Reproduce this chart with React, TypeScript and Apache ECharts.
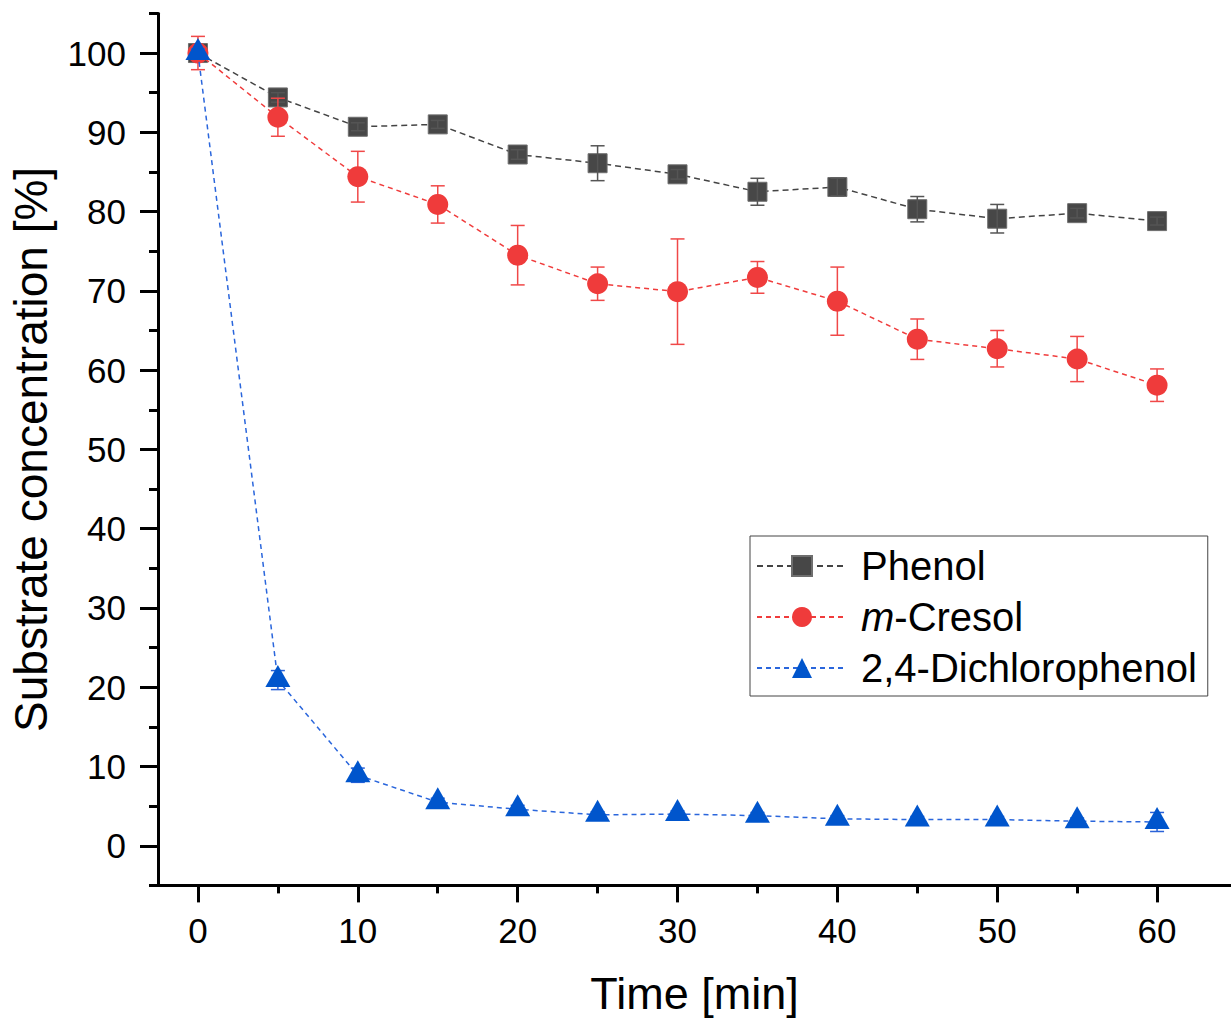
import React, { useEffect, useRef } from "react";
import * as echarts from "echarts";

const timeMin = [0, 5, 10, 15, 20, 25, 30, 35, 40, 45, 50, 55, 60];
const phenolMean = [100, 94.4, 90.7, 91.0, 87.2, 86.1, 84.7, 82.5, 83.1, 80.3, 79.1, 79.8, 78.8];
const phenolErr = [0.6, 0.6, 0.5, 0.5, 0.6, 2.2, 0.6, 1.7, 1.1, 1.6, 1.8, 0.6, 0.5];
const cresolMean = [100, 91.9, 84.4, 80.9, 74.5, 70.9, 69.9, 71.7, 68.7, 63.9, 62.7, 61.4, 58.1];
const cresolErr = [2.1, 2.4, 3.2, 2.35, 3.75, 2.1, 6.65, 2.0, 4.3, 2.55, 2.3, 2.85, 2.05];
const dcpMean = [100, 20.9, 8.9, 5.5, 4.6, 3.9, 4.0, 3.8, 3.4, 3.3, 3.3, 3.1, 3.0];
const dcpErr = [0.5, 1.2, 0.9, 0.5, 0.5, 0.4, 0.4, 0.4, 0.4, 0.4, 0.4, 0.4, 1.2];

const seriesNames = ["Phenol", "m-Cresol", "2,4-Dichlorophenol"];
const xMajorTicks = [0, 10, 20, 30, 40, 50, 60];
const xMinorTicks = [5, 15, 25, 35, 45, 55];
const yMajorTicks = [0, 10, 20, 30, 40, 50, 60, 70, 80, 90, 100];
const yMinorTicks = [-5, 5, 15, 25, 35, 45, 55, 65, 75, 85, 95, 105];

const FONT = "'Liberation Sans', Arial, Helvetica, sans-serif";
const X_MIN = -2.5;
const X_MAX = 64.625;
const Y_MIN = -5;
const Y_MAX = 105;

function pairs(means: number[]) {
  return timeMin.map((t, i) => [t, means[i]]);
}
function errData(means: number[], errs: number[]) {
  return timeMin.map((t, i) => [t, means[i] - errs[i], means[i] + errs[i]]);
}

function errorSeries(means: number[], errs: number[], color: string, z: number) {
  return {
    type: "custom",
    coordinateSystem: "cartesian2d",
    xAxisIndex: 0,
    yAxisIndex: 0,
    z,
    silent: true,
    encode: { x: 0, y: [1, 2] },
    data: errData(means, errs),
    renderItem: (params: any, api: any) => {
      const x = api.value(0);
      const lo = api.coord([x, api.value(1)]);
      const hi = api.coord([x, api.value(2)]);
      const hw = 7;
      const style = { stroke: color, lineWidth: 1.5, fill: "none" };
      return {
        type: "group",
        children: [
          { type: "line", shape: { x1: lo[0], y1: lo[1], x2: hi[0], y2: hi[1] }, style },
          { type: "line", shape: { x1: lo[0] - hw, y1: lo[1], x2: lo[0] + hw, y2: lo[1] }, style },
          { type: "line", shape: { x1: hi[0] - hw, y1: hi[1], x2: hi[0] + hw, y2: hi[1] }, style },
        ],
      };
    },
  };
}

export default function App() {
  const ref = useRef<HTMLDivElement>(null);
  useEffect(() => {
    const chart = echarts.init(ref.current as HTMLDivElement, null, { renderer: "svg" });
    const axisLineStyle = { color: "#000", width: 3 };
    const option: any = {
      animation: false,
      backgroundColor: "#ffffff",
      textStyle: { fontFamily: FONT },
      grid: { left: 157, top: 13.4, width: 1074, height: 872, containLabel: false },
      legend: {
        left: 750,
        top: 536,
        orient: "vertical",
        data: seriesNames,
        itemWidth: 90,
        itemHeight: 25,
        itemGap: 11,
        padding: [10, 11, 8, 6],
        borderColor: "#444",
        borderWidth: 1,
        backgroundColor: "#fff",
        formatter: (name: string) =>
          name === "m-Cresol" ? "{i|m}{n|-Cresol}" : "{n|" + name + "}",
        textStyle: {
          padding: [0, 0, 0, 9],
          color: "#000",
          fontFamily: FONT,
          fontSize: 40,
          rich: {
            i: { fontStyle: "italic", fontSize: 40, lineHeight: 38, fontFamily: FONT, color: "#000" },
            n: { fontSize: 40, lineHeight: 38, fontFamily: FONT, color: "#000" },
          },
        },
      },
      xAxis: [
        {
          type: "value",
          min: X_MIN,
          max: X_MAX,
          position: "bottom",
          axisLine: { show: true, onZero: false, lineStyle: axisLineStyle },
          axisTick: { show: true, customValues: xMajorTicks, length: 17, lineStyle: { color: "#000", width: 3 } },
          axisLabel: { show: true, customValues: xMajorTicks, fontSize: 35, color: "#000", margin: 28, fontFamily: FONT },
          splitLine: { show: false },
          name: "Time [min]",
          nameLocation: "middle",
          nameGap: 86,
          nameTextStyle: { fontSize: 45, color: "#000", fontFamily: FONT },
        },
        {
          type: "value",
          min: X_MIN,
          max: X_MAX,
          position: "bottom",
          axisLine: { show: false, onZero: false },
          axisTick: { show: true, customValues: xMinorTicks, length: 8, lineStyle: { color: "#000", width: 3 } },
          axisLabel: { show: false },
          splitLine: { show: false },
        },
      ],
      yAxis: [
        {
          type: "value",
          min: Y_MIN,
          max: Y_MAX,
          position: "left",
          axisLine: { show: true, onZero: false, lineStyle: axisLineStyle },
          axisTick: { show: true, customValues: yMajorTicks, length: 18, lineStyle: { color: "#000", width: 3 } },
          axisLabel: { show: true, customValues: yMajorTicks, fontSize: 35, color: "#000", margin: 32, fontFamily: FONT },
          splitLine: { show: false },
          name: "Substrate concentration [%]",
          nameLocation: "middle",
          nameGap: 104,
          nameTextStyle: { fontSize: 46, color: "#000", fontFamily: FONT },
        },
        {
          type: "value",
          min: Y_MIN,
          max: Y_MAX,
          position: "left",
          axisLine: { show: false, onZero: false },
          axisTick: { show: true, customValues: yMinorTicks, length: 9, lineStyle: { color: "#000", width: 3 } },
          axisLabel: { show: false },
          splitLine: { show: false },
        },
      ],
      series: [
        {
          name: "Phenol",
          type: "line",
          xAxisIndex: 0,
          yAxisIndex: 0,
          z: 2,
          data: pairs(phenolMean),
          symbol: "rect",
          symbolSize: [19, 19],
          itemStyle: { color: "#474747", borderColor: "#6e6e6e", borderWidth: 1 },
          lineStyle: { color: "#444444", width: 1.5, type: [6, 4] },
        },
        errorSeries(phenolMean, phenolErr, "#555555", 3),
        errorSeries(cresolMean, cresolErr, "#f04848", 4),
        {
          name: "m-Cresol",
          type: "line",
          xAxisIndex: 0,
          yAxisIndex: 0,
          z: 5,
          data: pairs(cresolMean),
          symbol: "circle",
          symbolSize: 21,
          itemStyle: { color: "#ef3b3b", borderColor: "#ef3b3b", borderWidth: 0 },
          lineStyle: { color: "#f03c3c", width: 1.5, type: [5, 4] },
        },
        errorSeries(dcpMean, dcpErr, "#2a62d8", 6),
        {
          name: "2,4-Dichlorophenol",
          type: "line",
          xAxisIndex: 0,
          yAxisIndex: 0,
          z: 7,
          data: pairs(dcpMean),
          symbol: "triangle",
          symbolSize: [25, 22],
          symbolOffset: [0, -4],
          itemStyle: { color: "#0055cc", borderWidth: 0 },
          lineStyle: { color: "#2a66dc", width: 1.5, type: [5, 4] },
        },
      ],
    };
    chart.setOption(option);
    return () => chart.dispose();
  }, []);
  return (
    <div
      ref={ref}
      style={{ position: "fixed", left: 0, top: 0, width: 1231, height: 1022, background: "#fff" }}
    />
  );
}
